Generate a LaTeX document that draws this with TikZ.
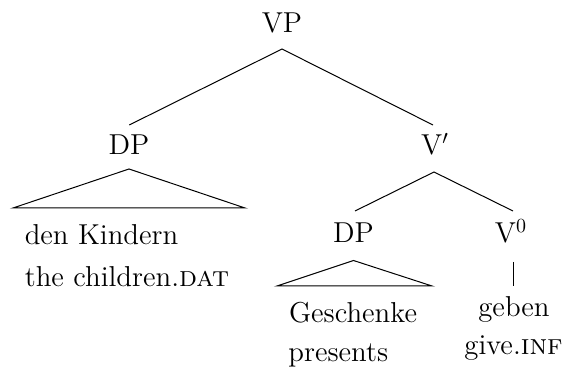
\documentclass[tikz,border=0pt]{standalone}
\usetikzlibrary{calc}
\begin{document}
\begin{tikzpicture}[x=1pt,y=1pt,
  lbl/.style={inner sep=0pt,anchor=base,font=\fontsize{14.4}{18}\selectfont},
  leafl/.style={inner sep=0pt,anchor=base west,font=\fontsize{14.4}{18}\selectfont},
  branch/.style={line width=0.5pt}]
\useasboundingbox (0,0) rectangle (281.5,184.5);
% category labels
\node[lbl] (VP) at (141,168) {VP};
\node[lbl] (DPa) at (64.5,107) {DP};
\node[lbl] (Vbar) at (217.5,107) {V$'$};
\node[lbl] (DPb) at (176.75,63) {DP};
\node[lbl] (V0) at (255.5,63) {V$^0$};
% leaves
\node[leafl] (den) at (12.2,62) {den Kindern};
\node[leafl] (thechildren) at (12.2,41) {the children.\textsc{dat}};
\node[leafl] (gesch) at (144.3,23) {Geschenke};
\node[leafl] (pres) at (144,3.5) {presents};
\node[lbl] (geben) at (257,26.25) {geben};
\node[lbl] (give) at (256.75,7) {give.\textsc{inf}};
% attachment points
\coordinate (VPs) at ($(VP.base)+(0,-8)$);
\coordinate (DPan) at ($(DPa.base)+(0.15,15)$);
\coordinate (Vbarn) at ($(Vbar.base)+(-1,15)$);
\coordinate (Vbars) at ($(Vbar.base)+(-0.5,-8.5)$);
\coordinate (DPbn) at ($(DPb.base)+(0.75,16)$);
\coordinate (V0n) at ($(V0.base)+(1,16)$);
\coordinate (V0s) at ($(V0.base)+(1,-9.5)$);
\coordinate (gebenn) at ($(V0.base)+(1,-21.5)$);
% branches
\draw[branch] (DPan) -- (VPs) -- (Vbarn);
\draw[branch] (DPbn) -- (Vbars) -- (V0n);
\draw[branch] (V0s) -- (gebenn);
% triangles
\draw[branch] ($(DPa.base)+(-58,-26.5)$) -- ($(DPa.base)+(0,-7)$) -- ($(DPa.base)+(58,-26.5)$) -- cycle;
\draw[branch] ($(DPb.base)+(-38.25,-21.5)$) -- ($(DPb.base)+(0,-8.75)$) -- ($(DPb.base)+(39.25,-21.5)$) -- cycle;
\end{tikzpicture}
\end{document}
